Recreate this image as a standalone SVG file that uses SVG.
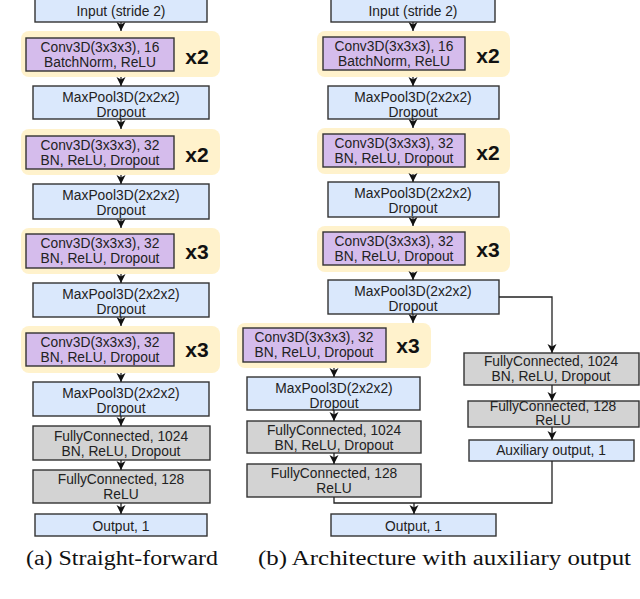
<svg xmlns="http://www.w3.org/2000/svg" width="640" height="599" viewBox="0 0 640 599">
<style>
.blue{fill:#dae8fc;stroke:#333;stroke-width:1.4}
.purple{fill:#d5bcec;stroke:#333;stroke-width:1.4}
.gray{fill:#d3d3d3;stroke:#333;stroke-width:1.4}
.grp{fill:#fff2cc;stroke:none}
text{font-family:"Liberation Sans",Arial,sans-serif;font-size:13.8px;fill:#222;text-anchor:middle}
text.rep{font-weight:bold;font-size:21px;fill:#111}
text.cap{font-family:"Liberation Serif","Times New Roman",serif;font-size:20px;text-anchor:start;fill:#111}
.conn{fill:none;stroke:#222;stroke-width:1.3}
</style>
<defs>
<marker id="ah" markerUnits="userSpaceOnUse" markerWidth="10" markerHeight="10" viewBox="0 0 10 10" refX="9" refY="5" orient="auto">
<path d="M0,0.5 L9,5 L0,9.5 L2.5,5 Z" fill="#111"/>
</marker>
</defs>
<rect width="640" height="599" fill="#fff"/>

<!-- Left column (a) -->
<g id="a-input"><rect class="blue" x="35" y="-1" width="172" height="23"/><text x="121" y="16">Input (stride 2)</text></g>
<g id="a-conv1"><rect class="grp" x="21" y="31" width="199" height="46" rx="8"/><rect class="purple" x="26" y="38" width="148" height="33"/><text x="100" y="51.5">Conv3D(3x3x3), 16</text><text x="100" y="66.5">BatchNorm, ReLU</text><text class="rep" x="197" y="64">x2</text></g>
<g id="a-pool1"><rect class="blue" x="33" y="86" width="176" height="33"/><text x="121" y="101.5">MaxPool3D(2x2x2)</text><text x="121" y="116.5">Dropout</text></g>
<g id="a-conv2"><rect class="grp" x="21" y="129" width="199" height="46" rx="8"/><rect class="purple" x="26" y="136" width="148" height="33"/><text x="100" y="149.5">Conv3D(3x3x3), 32</text><text x="100" y="164.5">BN, ReLU, Dropout</text><text class="rep" x="197" y="162">x2</text></g>
<g id="a-pool2"><rect class="blue" x="33" y="184" width="176" height="35"/><text x="121" y="199.5">MaxPool3D(2x2x2)</text><text x="121" y="214.5">Dropout</text></g>
<g id="a-conv3"><rect class="grp" x="21" y="228" width="199" height="46" rx="8"/><rect class="purple" x="26" y="234" width="148" height="34"/><text x="100" y="248">Conv3D(3x3x3), 32</text><text x="100" y="263">BN, ReLU, Dropout</text><text class="rep" x="197" y="259">x3</text></g>
<g id="a-pool3"><rect class="blue" x="33" y="283" width="176" height="34"/><text x="121" y="298.5">MaxPool3D(2x2x2)</text><text x="121" y="313.5">Dropout</text></g>
<g id="a-conv4"><rect class="grp" x="21" y="326" width="199" height="47" rx="8"/><rect class="purple" x="26" y="333" width="148" height="33"/><text x="100" y="346.5">Conv3D(3x3x3), 32</text><text x="100" y="361.5">BN, ReLU, Dropout</text><text class="rep" x="197" y="357">x3</text></g>
<g id="a-pool4"><rect class="blue" x="33" y="382" width="176" height="34"/><text x="121" y="397.5">MaxPool3D(2x2x2)</text><text x="121" y="412.5">Dropout</text></g>
<g id="a-fc1"><rect class="gray" x="33" y="426" width="177" height="34"/><text x="121" y="441">FullyConnected, 1024</text><text x="121" y="456">BN, ReLU, Dropout</text></g>
<g id="a-fc2"><rect class="gray" x="33" y="470" width="177" height="33"/><text x="121" y="484">FullyConnected, 128</text><text x="121" y="499">ReLU</text></g>
<g id="a-out"><rect class="blue" x="35" y="514" width="172" height="22"/><text x="121" y="531">Output, 1</text></g>

<!-- Right column (b) -->
<g id="b-input"><rect class="blue" x="331" y="-1" width="164" height="23"/><text x="413" y="16">Input (stride 2)</text></g>
<g id="b-conv1"><rect class="grp" x="317" y="31" width="193" height="46" rx="8"/><rect class="purple" x="323" y="37" width="142" height="33"/><text x="394" y="50.5">Conv3D(3x3x3), 16</text><text x="394" y="65.5">BatchNorm, ReLU</text><text class="rep" x="488" y="63">x2</text></g>
<g id="b-pool1"><rect class="blue" x="328" y="86" width="171" height="33"/><text x="413" y="101.5">MaxPool3D(2x2x2)</text><text x="413" y="116.5">Dropout</text></g>
<g id="b-conv2"><rect class="grp" x="317" y="128" width="193" height="46" rx="8"/><rect class="purple" x="323" y="134" width="142" height="33"/><text x="394" y="147.5">Conv3D(3x3x3), 32</text><text x="394" y="162.5">BN, ReLU, Dropout</text><text class="rep" x="488" y="160">x2</text></g>
<g id="b-pool2"><rect class="blue" x="328" y="182" width="171" height="35"/><text x="413" y="197.5">MaxPool3D(2x2x2)</text><text x="413" y="212.5">Dropout</text></g>
<g id="b-conv3"><rect class="grp" x="317" y="226" width="193" height="46" rx="8"/><rect class="purple" x="323" y="232" width="142" height="33"/><text x="394" y="245.5">Conv3D(3x3x3), 32</text><text x="394" y="260.5">BN, ReLU, Dropout</text><text class="rep" x="488" y="257">x3</text></g>
<g id="b-pool3"><rect class="blue" x="328" y="280" width="171" height="34"/><text x="413" y="295.5">MaxPool3D(2x2x2)</text><text x="413" y="310.5">Dropout</text></g>
<g id="b-conv4"><rect class="grp" x="237" y="323" width="194" height="45" rx="8"/><rect class="purple" x="243" y="328" width="143" height="34"/><text x="314" y="341.5">Conv3D(3x3x3), 32</text><text x="314" y="356.5">BN, ReLU, Dropout</text><text class="rep" x="408" y="353">x3</text></g>
<g id="b-pool4"><rect class="blue" x="247" y="377" width="173" height="33"/><text x="334" y="392.5">MaxPool3D(2x2x2)</text><text x="334" y="407.5">Dropout</text></g>
<g id="b-fc1"><rect class="gray" x="247" y="421" width="174" height="32"/><text x="334" y="435">FullyConnected, 1024</text><text x="334" y="450">BN, ReLU, Dropout</text></g>
<g id="b-fc2"><rect class="gray" x="247" y="464" width="174" height="33"/><text x="334" y="478">FullyConnected, 128</text><text x="334" y="493">ReLU</text></g>
<g id="b-out"><rect class="blue" x="331" y="514" width="165" height="22"/><text x="413.5" y="531">Output, 1</text></g>
<g id="aux-fc1"><rect class="gray" x="464" y="353" width="175" height="32"/><text x="551" y="366">FullyConnected, 1024</text><text x="551" y="381">BN, ReLU, Dropout</text></g>
<g id="aux-fc2"><rect class="gray" x="468" y="401" width="171" height="26"/><text x="553" y="410.5">FullyConnected, 128</text><text x="553" y="425">ReLU</text></g>
<g id="aux-out"><rect class="blue" x="469" y="440" width="165" height="21"/><text x="551" y="455">Auxiliary output, 1</text></g>

<g id="connectors">
<path class="conn" marker-end="url(#ah)" d="M121,22 V31"/>
<path class="conn" marker-end="url(#ah)" d="M121,77 V86"/>
<path class="conn" marker-end="url(#ah)" d="M121,119 V129"/>
<path class="conn" marker-end="url(#ah)" d="M121,175 V184"/>
<path class="conn" marker-end="url(#ah)" d="M121,219 V228"/>
<path class="conn" marker-end="url(#ah)" d="M121,274 V283"/>
<path class="conn" marker-end="url(#ah)" d="M121,317 V326"/>
<path class="conn" marker-end="url(#ah)" d="M121,373 V382"/>
<path class="conn" marker-end="url(#ah)" d="M121,416 V426"/>
<path class="conn" marker-end="url(#ah)" d="M121,460 V470"/>
<path class="conn" marker-end="url(#ah)" d="M121,503 V514"/>

<path class="conn" marker-end="url(#ah)" d="M413,22 V31"/>
<path class="conn" marker-end="url(#ah)" d="M413,77 V86"/>
<path class="conn" marker-end="url(#ah)" d="M413,119 V128"/>
<path class="conn" marker-end="url(#ah)" d="M413,174 V182"/>
<path class="conn" marker-end="url(#ah)" d="M413,217 V226"/>
<path class="conn" marker-end="url(#ah)" d="M413,272 V280"/>
<path class="conn" marker-end="url(#ah)" d="M413,314 V323"/>
<path class="conn" marker-end="url(#ah)" d="M334,368 V377"/>
<path class="conn" marker-end="url(#ah)" d="M334,410 V421"/>
<path class="conn" marker-end="url(#ah)" d="M334,453 V464"/>
<path class="conn" d="M334,497 V503 H552 V461"/>
<path class="conn" marker-end="url(#ah)" d="M414,503 V514"/>
<path class="conn" marker-end="url(#ah)" d="M499,297 H552 V353"/>
<path class="conn" marker-end="url(#ah)" d="M552,385 V401"/>
<path class="conn" marker-end="url(#ah)" d="M552,427 V440"/>
</g>

<text class="cap" x="26" y="565" textLength="192" lengthAdjust="spacingAndGlyphs">(a) Straight-forward</text>
<text class="cap" x="258" y="565" textLength="373" lengthAdjust="spacingAndGlyphs">(b) Architecture with auxiliary output</text>
</svg>
